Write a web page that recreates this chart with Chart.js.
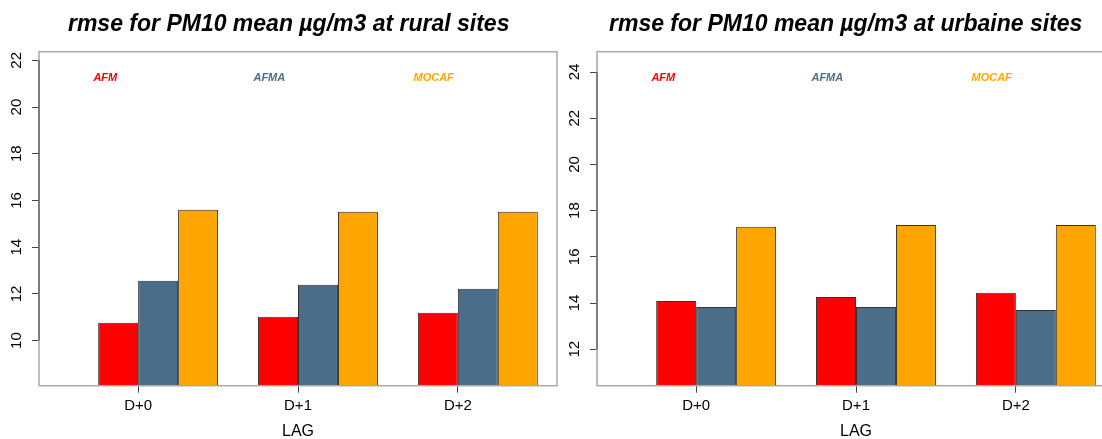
<!DOCTYPE html>
<html>
<head>
<meta charset="utf-8">
<script src="https://cdn.jsdelivr.net/npm/chart.js@4"></script>
<style>
html, body { margin: 0; padding: 0; background: #fff; overflow: hidden; width: 1102px; height: 439px; }
#rural { position: absolute; left: 0; top: 0; }
#urban { position: absolute; left: 551px; top: 0; }
</style>
</head>
<body>
<canvas id="rural" width="560" height="439"></canvas>
<canvas id="urban" width="564" height="439"></canvas>
<script>
const lags = ['D+0', 'D+1', 'D+2'];
const models = ['AFM', 'AFMA', 'MOCAF'];

const ruralAFM = [10.76, 11.02, 11.19];
const ruralAFMA = [12.56, 12.39, 12.22];
const ruralMOCAF = [15.60, 15.52, 15.52];

const urbanAFM = [14.09, 14.26, 14.44];
const urbanAFMA = [13.83, 13.83, 13.70];
const urbanMOCAF = [17.30, 17.38, 17.38];

const ruralTicks = [10, 12, 14, 16, 18, 20, 22];
const urbanTicks = [12, 14, 16, 18, 20, 22, 24];

const colors = ['#ff0000', '#4a6e8a', '#ffa500'];

Chart.defaults.font.family = '"Liberation Sans", Arial, sans-serif';
Chart.defaults.color = '#000';

// box round the plot + short axis line + model labels inside the plot
const frame = {
    id: 'frame',
    afterDatasetsDraw(chart) {
        const { ctx, chartArea: a, scales: { y } } = chart;
        ctx.save();
        ctx.strokeStyle = '#a8a8a8';
        ctx.lineWidth = 1.5;
        ctx.strokeRect(a.left, a.top, a.right - a.left, a.bottom - a.top);

        const t = y.ticks;
        ctx.strokeStyle = '#555';
        ctx.lineWidth = 1.2;
        ctx.beginPath();
        ctx.moveTo(a.left, y.getPixelForValue(t[0].value));
        ctx.lineTo(a.left, y.getPixelForValue(t[t.length - 1].value));
        ctx.stroke();

        ctx.font = 'italic bold 11px "Liberation Sans"';
        ctx.textBaseline = 'middle';
        ctx.textAlign = 'left';
        models.forEach((m, i) => {
            ctx.fillStyle = colors[i];
            ctx.fillText(m, a.left + a.width * (0.105 + 0.309 * i), a.top + 26.5);
        });
        ctx.restore();
    }
};

function makeChart(id, title, series, yMin, yMax, yTicks, padL, yWidth, padR, labelPad) {
    return new Chart(document.getElementById(id), {
        type: 'bar',
        data: {
            datasets: models.map((m, i) => ({
                label: m,
                data: series[i].map((v, j) => ({ x: 4 * j + 2.5, y: v })),
                backgroundColor: colors[i],
                borderColor: '#333',
                borderWidth: 1,
                categoryPercentage: 0.75,
                barPercentage: 1,
            })),
        },
        options: {
            responsive: false,
            animation: false,
            layout: { padding: { left: padL, right: padR, top: 0, bottom: 0 } },
            plugins: {
                legend: { display: false },
                tooltip: { enabled: false },
                title: {
                    display: true,
                    text: title,
                    color: '#000',
                    font: { size: 23, weight: 'bold', style: 'italic', lineHeight: 1.1 },
                    padding: { top: 12, bottom: 14.4 },
                },
            },
            scales: {
                x: {
                    type: 'linear',
                    offset: false,
                    min: -0.48,
                    max: 12.48,
                    afterBuildTicks: s => { s.ticks = lags.map((_, i) => ({ value: 4 * i + 2 })); },
                    afterFit: s => { s.height = 53.3; },
                    ticks: {
                        autoSkip: false,
                        maxRotation: 0,
                        padding: 4,
                        font: { size: 15 },
                        callback: (v, i) => lags[i],
                    },
                    grid: { offset: false, drawOnChartArea: false, tickLength: 7, color: '#444' },
                    border: { display: false },
                    title: { display: true, text: 'LAG', font: { size: 16, lineHeight: 1 }, padding: { top: 0, bottom: -1 } },
                },
                y: {
                    min: yMin,
                    max: yMax,
                    afterBuildTicks: s => { s.ticks = yTicks.map(v => ({ value: v })); },
                    afterFit: s => { s.width = yWidth; },
                    ticks: {
                        minRotation: 90,
                        maxRotation: 90,
                        mirror: true,
                        crossAlign: 'center',
                        padding: labelPad,
                        font: { size: 15 },
                    },
                    grid: { drawOnChartArea: false, tickLength: 7, color: '#444' },
                    border: { display: false },
                },
            },
        },
        plugins: [frame],
    });
}

makeChart('rural', 'rmse for PM10 mean \u00b5g/m3 at rural sites',
    [ruralAFM, ruralAFMA, ruralMOCAF], 8.07, 22.37, ruralTicks, 20.4, 18.6, 3, -30);
makeChart('urban', 'rmse for PM10 mean \u00b5g/m3 at urbaine sites',
    [urbanAFM, urbanAFMA, urbanMOCAF], 10.42, 24.88, urbanTicks, 25.4, 20.6, 0, -30.5);
</script>
</body>
</html>
